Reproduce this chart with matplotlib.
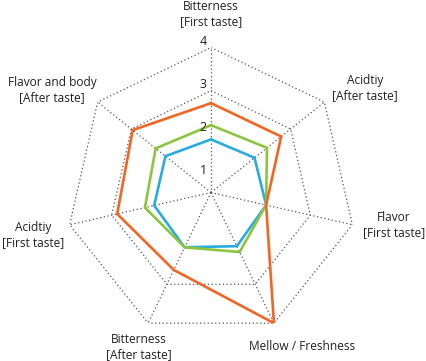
import matplotlib.pyplot as plt
import numpy as np

plt.rcParams["font.family"] = ["Open Sans", "DejaVu Sans"]

categories = [
    "Bitterness\n[First taste]",
    "Acidtiy\n[After taste]",
    "Flavor\n[First taste]",
    "Mellow / Freshness",
    "Bitterness\n[After taste]",
    "Acidtiy\n[First taste]",
    "Flavor and body\n[After taste]",
]
blue_vals = [1.87, 1.93, 1.95, 2.02, 2.05, 1.99, 1.99]
green_vals = [2.20, 2.30, 1.95, 2.17, 2.05, 2.21, 2.28]
orange_vals = [2.71, 2.72, 1.95, 4.00, 2.63, 2.87, 2.96]
tick_values = [1, 2, 3, 4]
ring_levels = [3, 4]

# label centres in pixels (x, y from top)
label_pos = [(211, 14), (365, 88), (394, 225), (302, 346),
             (139, 347), (33, 235), (52, 90)]

W, H = 426, 361
r_min, r_max = 0.64, 4.0
cx, cy, rad = 211, 192.5, 145

fig = plt.figure(figsize=(W / 100, H / 100), dpi=100)
ax = fig.add_axes([(cx - rad) / W, (H - cy - rad) / H, 2 * rad / W, 2 * rad / H],
                  projection="polar")
ax.set_theta_offset(np.pi / 2)
ax.set_theta_direction(-1)
ax.set_ylim(r_min, r_max)
ax.set_axis_off()

n = len(categories)
angles = np.linspace(0, 2 * np.pi, n, endpoint=False)
closed = np.append(angles, angles[0])

grid_kw = dict(color="#555555", lw=0.9, ls=(0, (1, 2)), zorder=1)
for lvl in ring_levels:
    ax.plot(closed, [lvl] * (n + 1), **grid_kw)
for a in angles:
    ax.plot([a, a], [r_min, r_max], **grid_kw)

for vals, col in [(blue_vals, "#29abe2"), (green_vals, "#8cc63f"), (orange_vals, "#f26522")]:
    ax.plot(closed, vals + vals[:1], color=col, lw=1.9, zorder=3, solid_joinstyle="miter")

for t in tick_values:
    ax.annotate(str(t), (0, t), xytext=(-8, 6), textcoords="offset pixels",
                ha="center", va="center", fontsize=9, color="#222222")

for lab, (x, y) in zip(categories, label_pos):
    fig.text(x / W, 1 - y / H, lab, ha="center", va="center", fontsize=8.6,
             color="#222222", linespacing=1.15)

fig.savefig("out.png", dpi=100)
